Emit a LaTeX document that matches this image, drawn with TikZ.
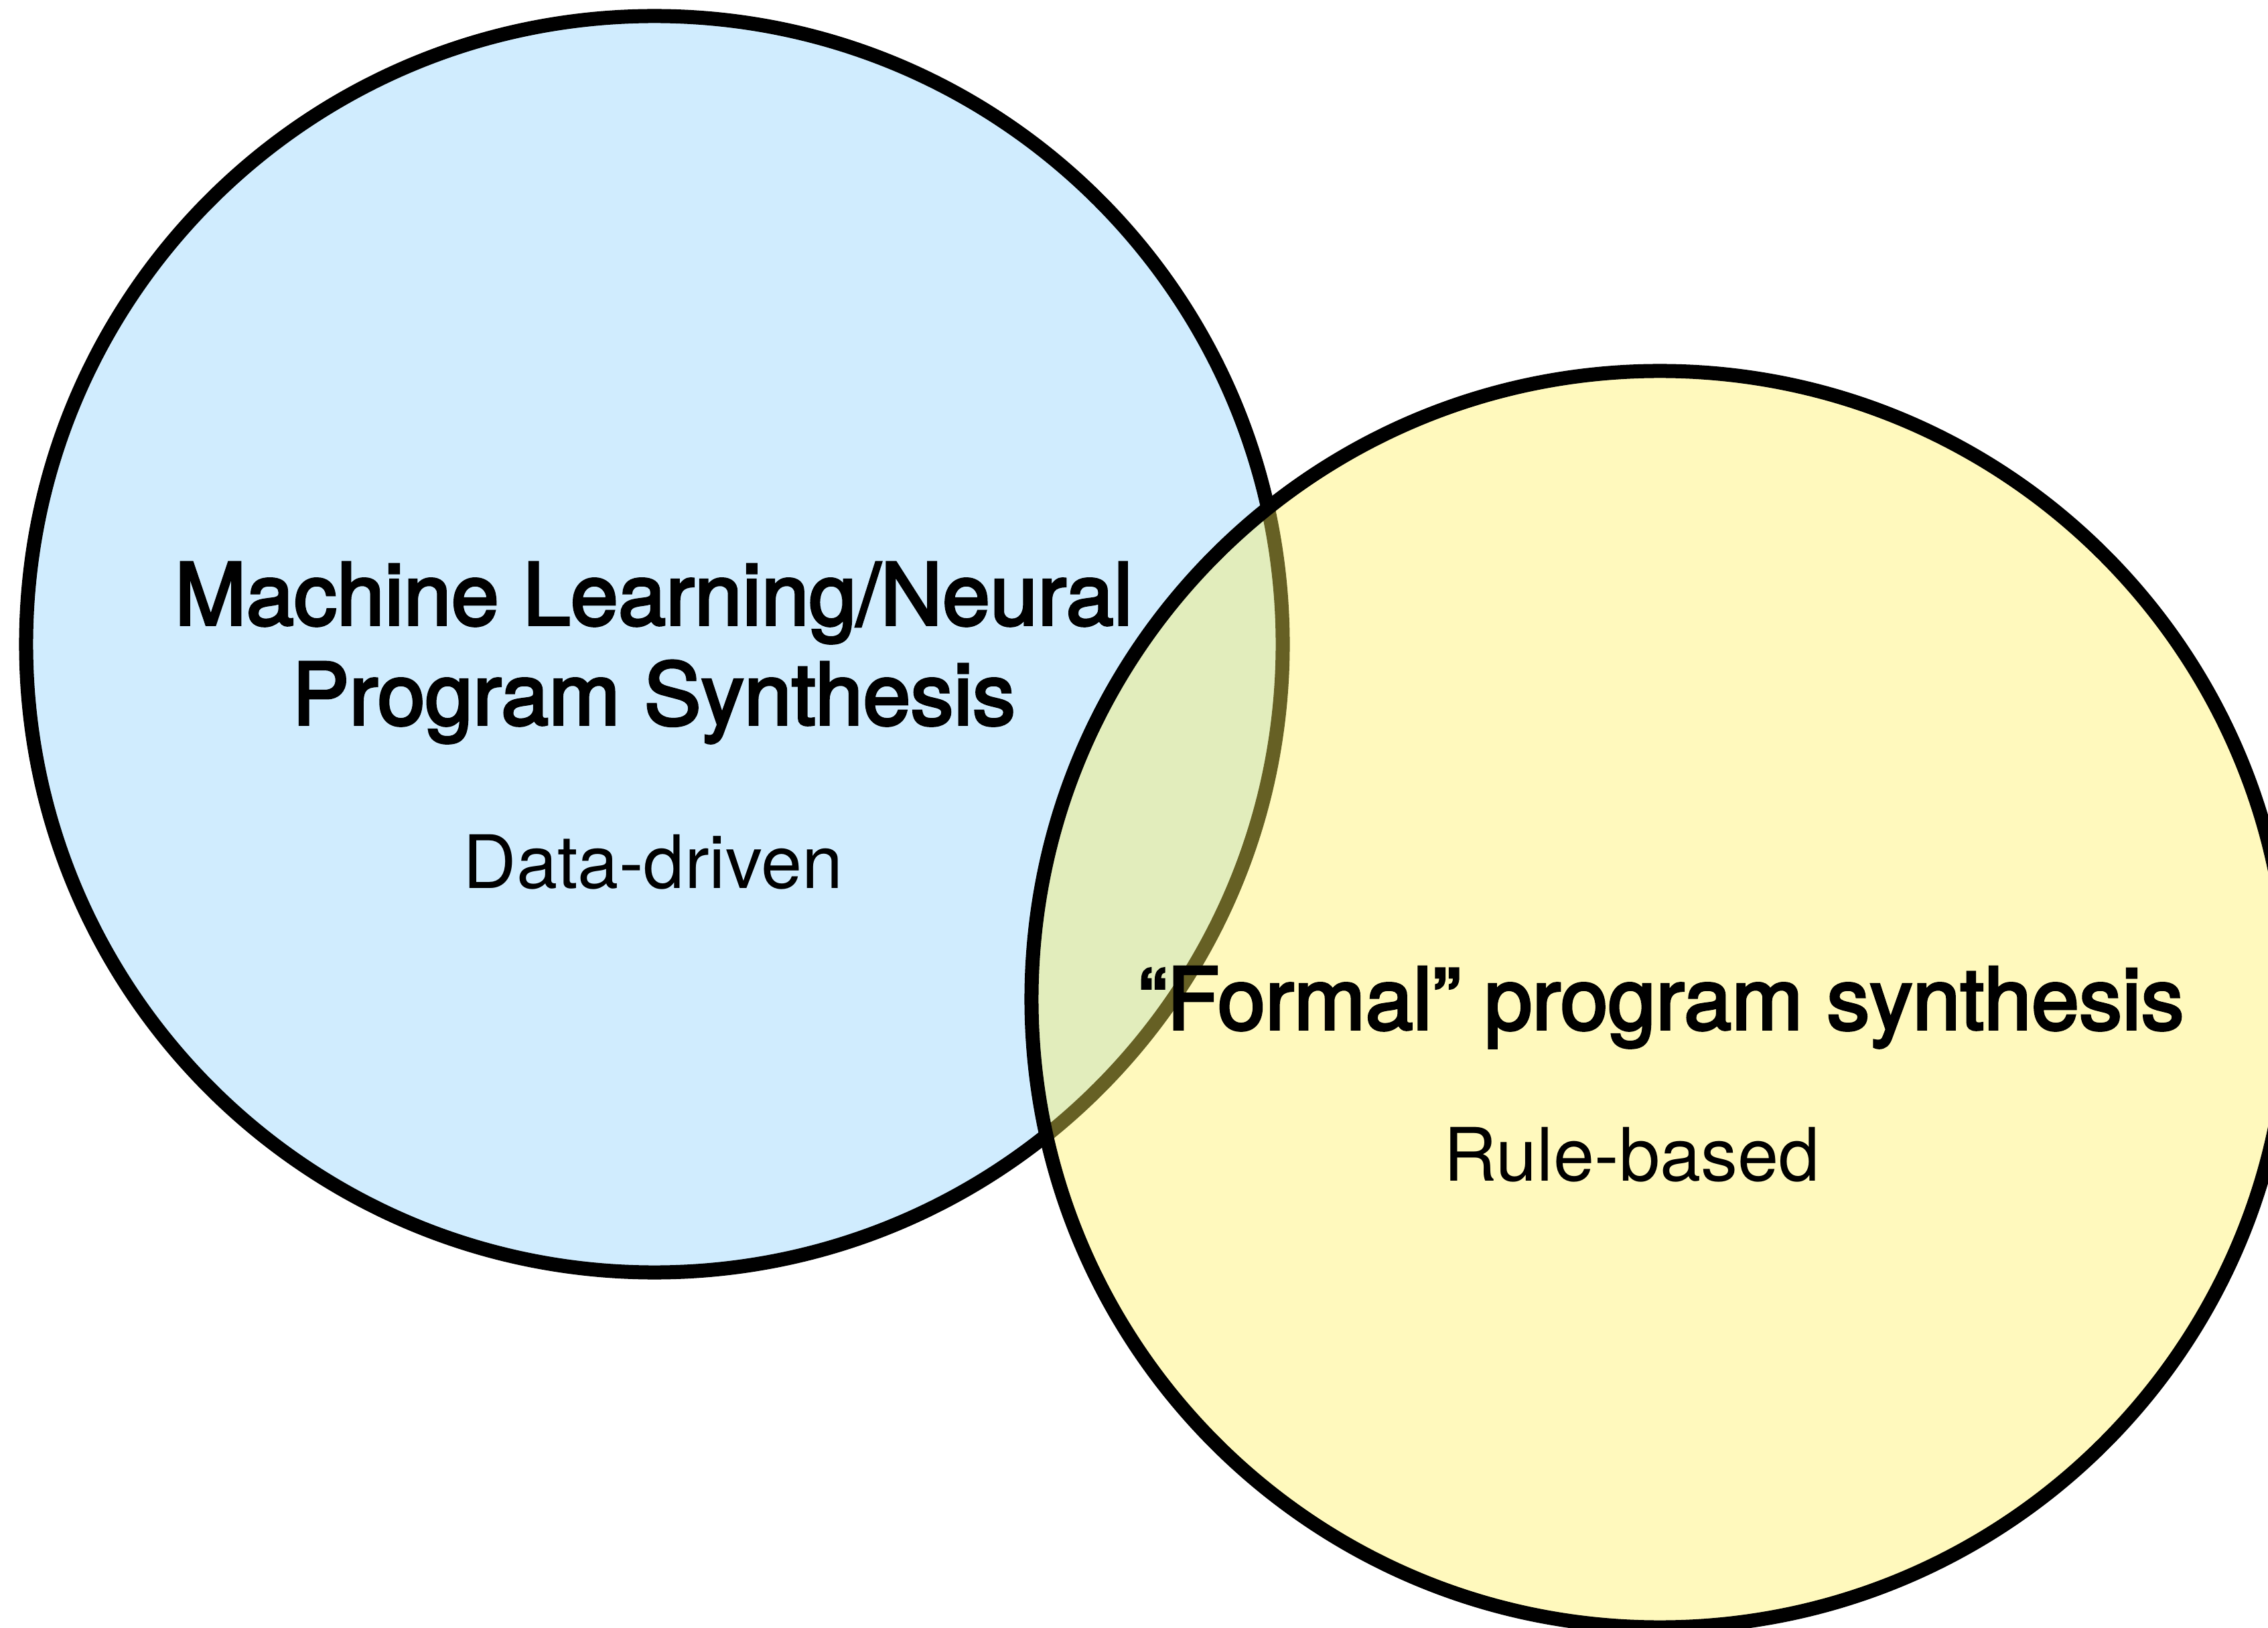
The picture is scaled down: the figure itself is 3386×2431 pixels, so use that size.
\documentclass[tikz,border=0pt]{standalone}
\usepackage{fontspec}
\setmainfont{TeX Gyre Heros}
\newfontfamily\medfont{TeX Gyre Heros}[FakeBold=3]
\definecolor{mlblue}{HTML}{D0ECFE}
\definecolor{rulegold}{HTML}{FFF05A}
\usetikzlibrary{positioning}

\begin{document}
\begin{tikzpicture}[x=0.01cm, y=-0.01cm,
  field/.style={circle, draw=black, line width=0.21cm, inner sep=0pt, minimum size=18.75cm},
  headline/.style={anchor=base, font=\medfont\fontsize{1.28cm}{1.49cm}\selectfont},
  tagline/.style={anchor=base, font=\fontsize{1.1cm}{1.3cm}\selectfont}]
\useasboundingbox (0,0) rectangle (3386,2431);
\node[field, fill=mlblue] (ml) at (977,962) {};
\node[field, fill=rulegold, fill opacity=0.4] (formal) at (2478,1492) {};
\node[headline] (mlhead) at (976,933) {Machine Learning/Neural};
\node[headline] (mlhead2) at (976,1082) {Program Synthesis};
\node[tagline] (mltag) at (975,1327) {Data-driven};
\node[headline] (fmhead) at (2480,1537) {“Formal” program synthesis};
\node[tagline] (fmtag) at (2436,1763) {Rule-based};
\end{tikzpicture}
\end{document}
